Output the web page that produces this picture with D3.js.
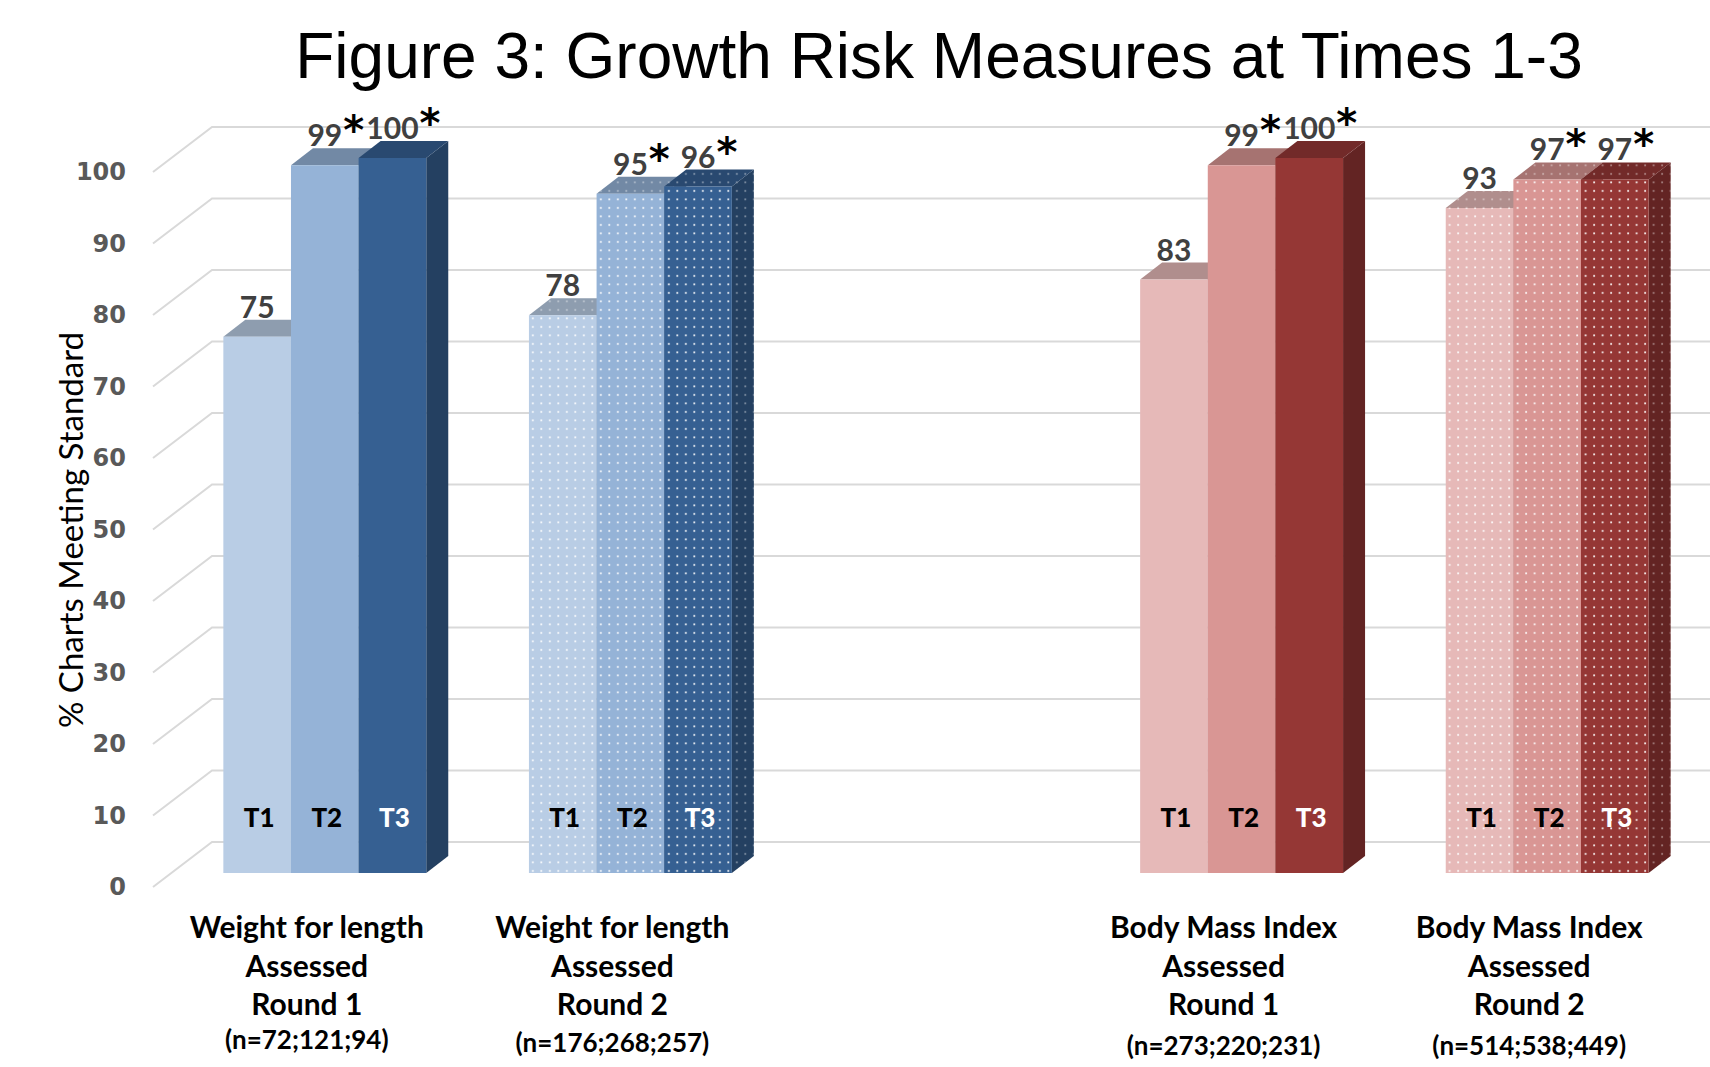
<html>
<head>
<meta charset="utf-8">
<script src="https://d3js.org/d3.v7.min.js"></script>
<style>
body { margin: 0; background: #fff; }
svg { display: block; }
.ytick text { font-family: "DejaVu Sans", sans-serif; font-weight: bold; font-size: 24px; fill: #595959; }
.cat { font-family: Lato, "Open Sans", sans-serif; font-weight: bold; fill: #000; }
.val { font-family: Lato, "Open Sans", sans-serif; font-weight: bold; font-size: 30px; fill: #404040; }
</style>
</head>
<body>
<svg width="1710" height="1067"></svg>
<script>

// ---- data ----
var categories = ["WFL R1", "WFL R2", "BMI R1", "BMI R2"];
var catLines = [
  ["Weight for length", "Assessed", "Round 1"],
  ["Weight for length", "Assessed", "Round 2"],
  ["Body Mass Index", "Assessed", "Round 1"],
  ["Body Mass Index", "Assessed", "Round 2"]
];
var sampleSizes = ["(n=72;121;94)", "(n=176;268;257)", "(n=273;220;231)", "(n=514;538;449)"];
var series = ["T1", "T2", "T3"];
var wflRound1 = [75, 99, 100];
var wflRound2 = [78, 95, 96];
var bmiRound1 = [83, 99, 100];
var bmiRound2 = [93, 97, 97];
var starred = [[false, true, true], [false, true, true], [false, true, true], [false, true, true]];
var dotted = [false, true, false, true];
var palette = [0, 0, 1, 1];
var yTicks = [0, 10, 20, 30, 40, 50, 60, 70, 80, 90, 100];

var values = [wflRound1, wflRound2, bmiRound1, bmiRound2];
var colors = [
  ["#b9cde5", "#95b3d7", "#366092"],
  ["#e6b9b8", "#d99694", "#953735"]
];

var svg = d3.select("svg");

// 3D offsets
var depth = {dx: 22, dy: -17};
var wallBack = -31, wallFront = 14;

// empty slot between the two measure groups
var slots = [categories[0], categories[1], "gap", categories[2], categories[3]];

var x0 = d3.scaleBand()
    .domain(slots)
    .range([172, 1700])
    .paddingInner(0.336)
    .paddingOuter(0.168);

var x1 = d3.scaleBand()
    .domain(series)
    .range([0, x0.bandwidth()]);

var y = d3.scaleLinear()
    .domain([0, 100])
    .range([873, 158]);

// dot pattern
var defs = svg.append("defs");
var pat = defs.append("pattern")
    .attr("id", "dots")
    .attr("patternUnits", "userSpaceOnUse")
    .attr("width", 8.5)
    .attr("height", 8.5);
pat.append("rect")
    .attr("x", 3).attr("y", 3)
    .attr("width", 1.8).attr("height", 1.8)
    .attr("fill", "#fff")
    .attr("fill-opacity", 0.9);

// title
svg.append("text")
    .attr("x", 939)
    .attr("y", 78)
    .attr("text-anchor", "middle")
    .style("font-family", "'Liberation Sans', Arial, sans-serif")
    .style("font-size", "64px")
    .style("fill", "#000")
    .text("Figure 3: Growth Risk Measures at Times 1-3");

// gridlines (back wall + floor diagonals)
var grid = svg.append("g");
yTicks.forEach(function(t) {
    var yb = y(t) + wallBack, yf = y(t) + wallFront;
    grid.append("path")
        .attr("d", "M153," + yf + "L212," + yb + "L1710," + yb)
        .attr("fill", "none")
        .attr("stroke", "#d9d9d9")
        .attr("stroke-width", 2);
});

// y axis labels
var yFront = d3.scaleLinear().domain([0, 100]).range([y(0) + wallFront, y(100) + wallFront]);
svg.append("g")
    .attr("class", "ytick")
    .attr("transform", "translate(126,0)")
    .call(d3.axisLeft(yFront).tickValues(yTicks).tickSize(0).tickPadding(0))
    .call(g => g.select(".domain").remove());

svg.append("text")
    .attr("transform", "translate(83,530) rotate(-90)")
    .attr("text-anchor", "middle")
    .style("font-family", "Lato, sans-serif")
    .style("font-size", "33px")
    .style("fill", "#000")
    .text("% Charts Meeting Standard");

// bars
var bw = x1.bandwidth();
categories.forEach(function(cat, i) {
    var g = svg.append("g").attr("transform", "translate(" + x0(cat) + ",0)");
    series.forEach(function(s, j) {
        var v = values[i][j];
        var x = x1(s), top = y(v), bot = y(0);
        var c = colors[palette[i]][j];
        var topC = d3.color(c).darker(0.75) + "";
        var sideC = d3.color(c).darker(1.15) + "";
        var front = "M" + x + "," + top + "h" + bw + "V" + bot + "H" + x + "Z";
        var topF = "M" + x + "," + top + "h" + bw + "l" + depth.dx + "," + depth.dy + "h" + (-bw) + "Z";
        var side = "M" + (x + bw) + "," + top + "l" + depth.dx + "," + depth.dy +
            "V" + (bot + depth.dy) + "l" + (-depth.dx) + "," + (-depth.dy) + "Z";
        [[side, sideC, 0.45], [topF, topC, 0.45], [front, c, 1]].forEach(function(f) {
            g.append("path").attr("d", f[0]).attr("fill", f[1]);
            if (dotted[i]) {
                g.append("path").attr("d", f[0]).attr("fill", "url(#dots)").attr("opacity", f[2]);
            }
        });
    });

    // value labels
    series.forEach(function(s, j) {
        var v = values[i][j];
        var cx = x0(cat) + x1(s) + bw / 2;
        var t = svg.append("text")
            .attr("class", "val")
            .attr("x", cx)
            .attr("y", y(v) - 19)
            .attr("text-anchor", "middle")
            .text(v);
        if (starred[i][j]) {
            var w = t.node().getComputedTextLength();
            svg.append("text")
                .attr("x", cx + w / 2 + 1)
                .attr("y", y(v) - 21)
                .style("font-family", "'DejaVu Sans', sans-serif")
                .style("font-weight", "bold")
                .style("font-size", "40px")
                .style("fill", "#000")
                .text("*");
        }
        svg.append("text")
            .attr("x", cx + 2)
            .attr("y", 827)
            .attr("text-anchor", "middle")
            .style("font-family", "Lato, sans-serif")
            .style("font-weight", "900")
            .style("font-size", "26px")
            .style("fill", j == 2 ? "#fff" : "#000")
            .text(s);
    });

    // category labels
    var lx = x0(cat) + x0.bandwidth() / 2 - 18;
    catLines[i].forEach(function(line, k) {
        svg.append("text")
            .attr("class", "cat")
            .attr("x", lx)
            .attr("y", 938 + k * 38.5)
            .attr("text-anchor", "middle")
            .style("font-size", "30px")
            .text(line);
    });
    var nShift = [-3, 0, 3, 3];
    svg.append("text")
        .attr("class", "cat")
        .attr("x", lx)
        .attr("y", 1052 + nShift[i])
        .attr("text-anchor", "middle")
        .style("font-size", "26px")
        .text(sampleSizes[i]);
});

</script>
</body>
</html>
